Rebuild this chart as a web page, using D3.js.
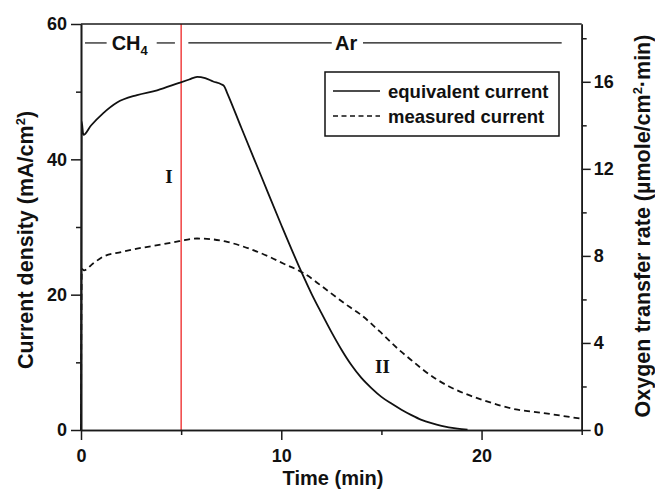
<!DOCTYPE html>
<html>
<head>
<meta charset="utf-8">
<script src="https://cdn.jsdelivr.net/npm/d3@7/dist/d3.min.js"></script>
<style>
  body { margin: 0; background: #fff; }
  text { font-family: "Liberation Sans", Arial, sans-serif; font-weight: bold; fill: #111; }
</style>
</head>
<body>
<div id="chart"></div>
<script>
// equivalent current (solid), mA/cm2
var eqTime   = [0, 0.03, 0.12, 0.5, 1.1, 1.8, 2.8, 3.8, 4.9, 5.4, 5.8, 6.2, 6.6, 7.0, 7.15, 7.3, 8.0, 9.0, 10.0, 11.0, 11.5, 12.0, 12.5, 13.0, 13.5, 14.0, 14.5, 15.0, 15.5, 16.0, 16.5, 17.0, 17.5, 18.0, 18.8, 19.3];
var eqValues = [0, 45.6, 43.6, 45.0, 46.8, 48.4, 49.5, 50.2, 51.3, 51.8, 52.2, 52.0, 51.5, 51.1, 50.8, 49.8, 44.7, 37.5, 30.3, 23.4, 20.2, 17.3, 14.5, 11.9, 9.6, 7.7, 6.2, 4.9, 3.9, 3.0, 2.2, 1.5, 1.0, 0.6, 0.2, 0.05];

// measured current (dashed), mA/cm2
var measTime   = [0, 0.04, 0.15, 0.6, 1.1, 2.0, 2.8, 4.0, 4.9, 5.8, 6.5, 7.3, 8.4, 9.4, 10.1, 11.1, 12.4, 13.4, 13.9, 14.9, 15.9, 16.3, 17.8, 18.4, 20.1, 21.8, 22.6, 24.9];
var measValues = [0, 23.8, 23.6, 24.6, 25.6, 26.3, 26.8, 27.4, 27.9, 28.3, 28.2, 27.8, 26.8, 25.6, 24.6, 23.2, 20.4, 18.2, 17.2, 14.6, 11.8, 10.8, 7.4, 6.4, 4.4, 3.0, 2.7, 1.7];

// axes
var xTicks = [0, 10, 20];
var xMinor = [5, 15, 25];
var yLeftTicks = [0, 20, 40, 60];
var yLeftMinor = [10, 30, 50];
var yRightTicks = [0, 4, 8, 12, 16];
var yRightMinor = [2, 6, 10, 14, 18];
var switchTime = 5;   // CH4 -> Ar

// gas phase annotations (time units)
var phaseNames = ["CH", "Ar"];
var phaseLabelTime = [1.53, 12.68];
var phaseRules = [[0.2, 1.28], [3.78, 4.69], [5.36, 12.52], [14.08, 24.0]];

// region labels
var regionNames = ["I", "II"];
var regionTime = [4.39, 15.05];
var regionValue = [36.5, 8.4];

var legendNames = ["equivalent current", "measured current"];

var W = 655, H = 494;
var margin = {left: 81, top: 24, right: 73.3, bottom: 64};
var width = W - margin.left - margin.right;
var height = H - margin.top - margin.bottom;

var svg = d3.select("#chart").append("svg")
    .attr("width", W)
    .attr("height", H);

var g = svg.append("g").attr("transform", "translate(" + margin.left + "," + margin.top + ")");

var x = d3.scaleLinear().domain([0, 25]).range([0, width]);
var y = d3.scaleLinear().domain([0, 60]).range([height, 0]);
// 60 mA/cm2 / 2F  -> umol/cm2.min
var y2 = d3.scaleLinear().domain([0, 0.06 / (2 * 96485) * 60 * 1e6]).range([height, 0]);

var axisColor = "#1a1a1a";

// red switch line
g.append("line")
    .attr("x1", x(switchTime)).attr("x2", x(switchTime))
    .attr("y1", 0).attr("y2", height)
    .attr("stroke", "#ee2424")
    .attr("stroke-width", 1.3);

// curves
var lineEq = d3.line()
    .x(function(d, i) { return x(eqTime[i]); })
    .y(function(d) { return y(d); })
    .curve(d3.curveMonotoneX);

var lineMeas = d3.line()
    .x(function(d, i) { return x(measTime[i]); })
    .y(function(d) { return y(d); })
    .curve(d3.curveMonotoneX);

g.append("path")
    .attr("d", lineEq(eqValues))
    .attr("fill", "none")
    .attr("stroke", "#111")
    .attr("stroke-width", 1.8);

g.append("path")
    .attr("d", lineMeas(measValues))
    .attr("fill", "none")
    .attr("stroke", "#111")
    .attr("stroke-width", 1.8)
    .attr("stroke-dasharray", "6,4");

// axes
function styleAxis(sel) {
    sel.select(".domain").attr("stroke", axisColor).attr("stroke-width", 1.6);
    sel.selectAll(".tick line").attr("stroke", axisColor).attr("stroke-width", 1.5);
    sel.selectAll("text").attr("font-size", 18).style("font-weight", "bold").attr("fill", "#111");
}

g.append("g")
    .attr("transform", "translate(0," + height + ")")
    .call(d3.axisBottom(x).tickValues(xTicks).tickSize(10).tickSizeOuter(0).tickPadding(9))
    .call(styleAxis);
g.append("g")
    .attr("transform", "translate(0," + height + ")")
    .call(d3.axisBottom(x).tickValues(xMinor).tickSize(5).tickSizeOuter(0).tickFormat(""))
    .call(styleAxis);

g.append("g")
    .call(d3.axisLeft(y).tickValues(yLeftTicks).tickSize(10).tickSizeOuter(0).tickPadding(4))
    .call(styleAxis);
g.append("g")
    .call(d3.axisLeft(y).tickValues(yLeftMinor).tickSize(5).tickSizeOuter(0).tickFormat(""))
    .call(styleAxis);

g.append("g")
    .attr("transform", "translate(" + width + ",0)")
    .call(d3.axisRight(y2).tickValues(yRightTicks).tickSize(9).tickSizeOuter(0).tickPadding(3))
    .call(styleAxis);
g.append("g")
    .attr("transform", "translate(" + width + ",0)")
    .call(d3.axisRight(y2).tickValues(yRightMinor).tickSize(5).tickSizeOuter(0).tickFormat(""))
    .call(styleAxis);

// top frame
g.append("line")
    .attr("x1", 0).attr("x2", width)
    .attr("y1", 0).attr("y2", 0)
    .attr("stroke", axisColor)
    .attr("stroke-width", 1.6);

// gas phase annotations
var phaseY = y(57.2);
g.selectAll(".rule")
    .data(phaseRules)
    .enter().append("line")
    .attr("x1", function(d) { return x(d[0]); })
    .attr("x2", function(d) { return x(d[1]); })
    .attr("y1", phaseY).attr("y2", phaseY)
    .attr("stroke", "#111")
    .attr("stroke-width", 1.2);

var phaseText = g.selectAll(".phase")
    .data(phaseNames)
    .enter().append("text")
    .attr("x", function(d, i) { return x(phaseLabelTime[i]); })
    .attr("y", phaseY + 7)
    .attr("font-size", 20)
    .text(function(d) { return d; });
phaseText.filter(function(d) { return d === "CH"; })
    .append("tspan")
    .attr("font-size", 13)
    .attr("dy", 5)
    .text("4");

// region labels
g.selectAll(".region")
    .data(regionNames)
    .enter().append("text")
    .attr("x", function(d, i) { return x(regionTime[i]); })
    .attr("y", function(d, i) { return y(regionValue[i]); })
    .attr("text-anchor", "middle")
    .attr("font-size", 19)
    .style("font-family", "'Liberation Serif', 'Times New Roman', serif")
    .text(function(d) { return d; });

// legend
var legend = g.append("g").attr("transform", "translate(" + (325 - margin.left) + "," + (72 - margin.top) + ")");
legend.append("rect")
    .attr("width", 234).attr("height", 64)
    .attr("fill", "#fff")
    .attr("stroke", "#111")
    .attr("stroke-width", 1.5);
legendNames.forEach(function(name, i) {
    var ly = 19 + i * 25;
    legend.append("line")
        .attr("x1", 8).attr("x2", 55)
        .attr("y1", ly).attr("y2", ly)
        .attr("stroke", "#111")
        .attr("stroke-width", 1.5)
        .attr("stroke-dasharray", i === 1 ? "5,3.5" : null);
    legend.append("text")
        .attr("x", 63).attr("y", ly + 6.5)
        .attr("font-size", 18.5)
        .text(name);
});

// axis titles
svg.append("text")
    .attr("transform", "translate(33,240) rotate(-90)")
    .attr("text-anchor", "middle")
    .attr("font-size", 21.5)
    .html("Current density (mA/cm<tspan font-size='13' dy='-8'>2</tspan><tspan dy='8'>)</tspan>");

svg.append("text")
    .attr("transform", "translate(650,226) rotate(-90)")
    .attr("text-anchor", "middle")
    .attr("font-size", 21.5)
    .html("Oxygen transfer rate (\u00b5mole/cm<tspan font-size='13' dy='-8'>2</tspan><tspan dy='8'>\u00b7min)</tspan>");

svg.append("text")
    .attr("x", 333).attr("y", 485)
    .attr("text-anchor", "middle")
    .attr("font-size", 20)
    .text("Time (min)");
</script>
</body>
</html>
